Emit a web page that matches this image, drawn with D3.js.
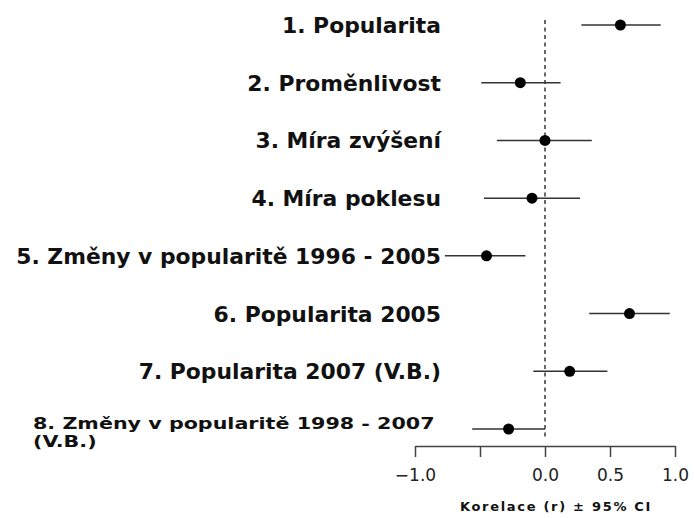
<!DOCTYPE html>
<html>
<head>
<meta charset="utf-8">
<script src="https://cdn.jsdelivr.net/npm/d3@7"></script>
<style>
  body { margin: 0; background: #fff; }
  svg { display: block; }
  .lbl { font-family: "DejaVu Sans", Verdana, sans-serif; font-weight: bold; fill: #111; }
  .tick text { font-family: "DejaVu Sans", Verdana, sans-serif; fill: #222; }
</style>
</head>
<body>
<svg id="chart" width="694" height="518"></svg>
<script>
// labels (line breaks with \n), estimates and 95% CI
var labels = ['1. Popularita', '2. Proměnlivost', '3. Míra zvýšení', '4. Míra poklesu',
    '5. Změny v popularitě 1996 - 2005', '6. Popularita 2005', '7. Popularita 2007 (V.B.)',
    '8. Změny v popularitě 1998 - 2007\n(V.B.)'];
var estimate = [0.58, -0.19, 0.0, -0.10, -0.45, 0.65, 0.19, -0.28];
var lower = [0.28, -0.49, -0.37, -0.47, -0.77, 0.34, -0.09, -0.56];
var upper = [0.89, 0.12, 0.36, 0.27, -0.15, 0.96, 0.48, 0.0];
var ticks = [-1, -0.5, 0, 0.5, 1];
var tickLabels = ['\u22121.0', '', '0.0', '0.5', '1.0'];
var axisTitle = 'Korelace (r) \u00b1 95% CI';

var svg = d3.select('#chart');

var x = d3.scaleLinear().domain([-1, 1]).range([415, 675]);
var y = d3.scalePoint().domain(d3.range(labels.length)).range([25, 429]);

// zero reference line
svg.append('line')
    .attr('x1', x(0)).attr('x2', x(0))
    .attr('y1', 20).attr('y2', 440)
    .attr('stroke', '#444').attr('stroke-width', 1.6)
    .attr('stroke-dasharray', '4,3.5');

var rows = svg.selectAll('g.row')
    .data(labels.map(function(d, i) {
        return {label: d, est: estimate[i], lo: lower[i], hi: upper[i], i: i};
    }))
    .enter().append('g').attr('class', 'row');

rows.append('line')
    .attr('x1', function(d) { return x(d.lo); })
    .attr('x2', function(d) { return x(d.hi); })
    .attr('y1', function(d) { return y(d.i); })
    .attr('y2', function(d) { return y(d.i); })
    .attr('stroke', '#333').attr('stroke-width', 1.5);

rows.append('circle')
    .attr('cx', function(d) { return x(d.est); })
    .attr('cy', function(d) { return y(d.i); })
    .attr('r', 5.5)
    .attr('fill', '#000');

// single-line labels, right aligned next to the plot
var single = rows.filter(function(d) { return d.label.indexOf('\n') < 0; })
    .append('text')
    .attr('class', 'lbl')
    .attr('x', 441)
    .attr('y', function(d) { return y(d.i) + 8; })
    .attr('text-anchor', 'end')
    .style('font-size', '18px')
    .text(function(d) { return d.label; });

// fit width of label 5 to the reference (13 -> 438)
var ref = single.filter(function(d) { return d.i === 4; }).node();
var fs = 18 * 425 / ref.getComputedTextLength();
single.style('font-size', fs + 'px');

// the two-line label, left aligned and a bit smaller
var multi = rows.filter(function(d) { return d.label.indexOf('\n') >= 0; })
    .append('text')
    .attr('class', 'lbl')
    .style('font-size', '15.5px');
multi.selectAll('tspan')
    .data(function(d) { return d.label.split('\n'); })
    .enter().append('tspan')
    .attr('x', 0)
    .attr('dy', function(d, i) { return i ? 18 : 0; })
    .text(function(d) { return d; });
var w8 = multi.select('tspan').node().getComputedTextLength();
multi.attr('transform', function(d) {
    return 'translate(33,' + y(d.i) + ') scale(' + (402 / w8) + ',1)';
});

// x axis
var axis = svg.append('g')
    .attr('transform', 'translate(0,446)')
    .call(d3.axisBottom(x).tickValues(ticks).tickSize(11).tickSizeOuter(0)
        .tickFormat(function(d, i) { return tickLabels[i]; }));
axis.select('.domain').attr('stroke', '#444').attr('stroke-width', 1.5);
axis.selectAll('.tick line').attr('stroke', '#444').attr('stroke-width', 1.5);
axis.selectAll('.tick text')
    .attr('y', 35).attr('dy', 0)
    .style('font-size', '17px')
    .attr('fill', '#222');

svg.append('text')
    .attr('class', 'lbl')
    .attr('x', 556).attr('y', 511)
    .attr('text-anchor', 'middle')
    .style('font-size', '13px')
    .style('letter-spacing', '1.7px')
    .text(axisTitle);
</script>
</body>
</html>
